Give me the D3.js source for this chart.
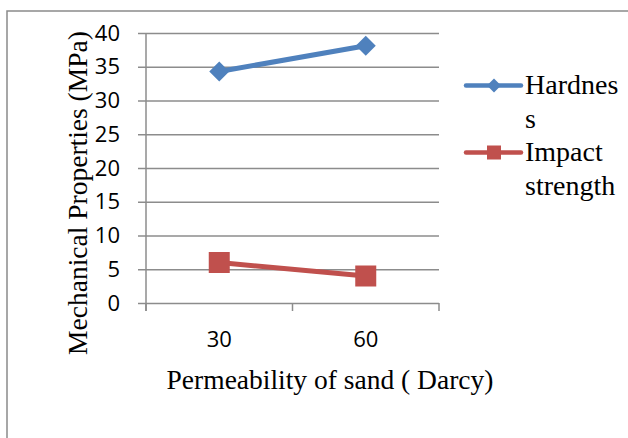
<!DOCTYPE html>
<html>
<head>
<meta charset="utf-8">
<script src="https://cdn.jsdelivr.net/npm/d3@7"></script>
<style>
  html, body { margin: 0; padding: 0; background: #fff; }
  svg { display: block; }
</style>
</head>
<body>
<div id="chart"></div>
<script>
// Mechanical properties vs permeability of sand — two-series line chart

var categories = ["30", "60"];
var hardness = [34.3, 38.1];
var impactStrength = [6.0, 4.0];
var yTicks = [0, 5, 10, 15, 20, 25, 30, 35, 40];
var legendLines = [["Hardnes", "s"], ["Impact", "strength"]];

var series = [
    { name: "Hardness", values: hardness, color: "#4F81BD", marker: "diamond", legend: legendLines[0] },
    { name: "Impact strength", values: impactStrength, color: "#C0504D", marker: "square", legend: legendLines[1] }
];

function renderChart() {
    var totalW = 628, totalH = 438;
    var margin = { top: 33, left: 146 };
    var width = 293, height = 270;

    var serif = "'Liberation Serif', 'Times New Roman', serif";
    var sans = "'Open Sans', 'DejaVu Sans', sans-serif";
    var gridColor = "#8c8c8c";

    var svg = d3.select("#chart").append("svg")
        .attr("width", totalW)
        .attr("height", totalH);

    // outer chart frame (runs off the right and bottom)
    svg.append("rect")
        .attr("x", 7).attr("y", 11)
        .attr("width", 700).attr("height", 600)
        .attr("fill", "none")
        .attr("stroke", "#8a8a8a")
        .attr("stroke-width", 1.5);

    var g = svg.append("g")
        .attr("transform", "translate(" + margin.left + "," + margin.top + ")");

    var x = d3.scaleBand().domain(categories).range([0, width]).padding(0);
    var y = d3.scaleLinear().domain([0, 40]).range([height, 0]);

    // --- Grid lines ---
    g.append("g")
        .call(d3.axisLeft(y).tickValues(yTicks).tickSize(-width).tickFormat(""))
        .call(function(sel) { sel.select(".domain").remove(); })
        .selectAll("line")
            .attr("stroke", gridColor)
            .attr("stroke-width", 1.5);

    var yAxis = g.append("g")
        .call(d3.axisLeft(y).tickValues(yTicks).tickSize(8).tickPadding(18).tickFormat(d3.format("d")));
    yAxis.select(".domain").remove();
    yAxis.selectAll("line").attr("stroke", gridColor).attr("stroke-width", 1.5);
    yAxis.selectAll("text")
        .style("font-family", sans)
        .style("font-size", "22px")
        .attr("fill", "#000");

    // left spine
    g.append("line")
        .attr("x1", 0).attr("x2", 0)
        .attr("y1", 0).attr("y2", height + 8)
        .attr("stroke", gridColor)
        .attr("stroke-width", 1.5);

    // --- X axis: boundary ticks + centered labels ---
    var xBounds = categories.map(function(c) { return x(c); }).concat([width]);
    g.selectAll(".x-tick")
        .data(xBounds)
        .enter().append("line")
        .attr("x1", function(d) { return d; })
        .attr("x2", function(d) { return d; })
        .attr("y1", height)
        .attr("y2", height + 8)
        .attr("stroke", gridColor)
        .attr("stroke-width", 1.5);

    g.selectAll(".x-label")
        .data(categories)
        .enter().append("text")
        .attr("x", function(d) { return x(d) + x.bandwidth() / 2; })
        .attr("y", height + 44)
        .attr("text-anchor", "middle")
        .style("font-family", sans)
        .style("font-size", "22px")
        .text(function(d) { return d; });

    // --- Axis titles ---
    g.append("text")
        .attr("transform", "rotate(-90)")
        .attr("x", -(193 - margin.top))
        .attr("y", 87 - margin.left)
        .attr("text-anchor", "middle")
        .style("font-family", serif)
        .style("font-size", "27.5px")
        .attr("fill", "#000")
        .text("Mechanical Properties (MPa)");

    g.append("text")
        .attr("x", 330 - margin.left)
        .attr("y", 389 - margin.top)
        .attr("text-anchor", "middle")
        .style("font-family", serif)
        .style("font-size", "27.5px")
        .attr("fill", "#000")
        .text("Permeability of sand ( Darcy)");

    // --- Lines and markers ---
    var lineGen = d3.line()
        .x(function(d, i) { return x(categories[i]) + x.bandwidth() / 2; })
        .y(function(d) { return y(d); });

    function drawMarker(sel, type, size, color) {
        if (type === "diamond") {
            sel.append("path")
                .attr("d", "M0," + (-size) + "L" + size + ",0L0," + size + "L" + (-size) + ",0Z")
                .attr("fill", color);
        } else {
            sel.append("rect")
                .attr("x", -size).attr("y", -size)
                .attr("width", size * 2).attr("height", size * 2)
                .attr("fill", color);
        }
    }

    series.forEach(function(s) {
        g.append("path")
            .datum(s.values)
            .attr("fill", "none")
            .attr("stroke", s.color)
            .attr("stroke-width", 5)
            .attr("stroke-linejoin", "round")
            .attr("d", lineGen);

        s.values.forEach(function(v, i) {
            var m = g.append("g")
                .attr("transform", "translate(" + (x(categories[i]) + x.bandwidth() / 2) + "," + y(v) + ")");
            drawMarker(m, s.marker, s.marker === "diamond" ? 10 : 10.5, s.color);
        });
    });

    // --- Legend ---
    var legendY = [85.5, 152.5];
    series.forEach(function(s, i) {
        var lg = svg.append("g")
            .attr("transform", "translate(466," + legendY[i] + ")");
        lg.append("line")
            .attr("x1", 0).attr("x2", 55)
            .attr("y1", 0).attr("y2", 0)
            .attr("stroke", s.color)
            .attr("stroke-width", 4.5)
            .attr("stroke-linecap", "round");
        var m = lg.append("g").attr("transform", "translate(28,0)");
        drawMarker(m, s.marker, 7, s.color);

        var t = lg.append("text")
            .attr("x", 59)
            .attr("y", 8)
            .style("font-family", serif)
            .style("font-size", "28px")
            .attr("fill", "#000");
        s.legend.forEach(function(line, j) {
            t.append("tspan")
                .attr("x", 59)
                .attr("dy", j === 0 ? 0 : 34)
                .text(line);
        });
    });
}

renderChart();
</script>
</body>
</html>
